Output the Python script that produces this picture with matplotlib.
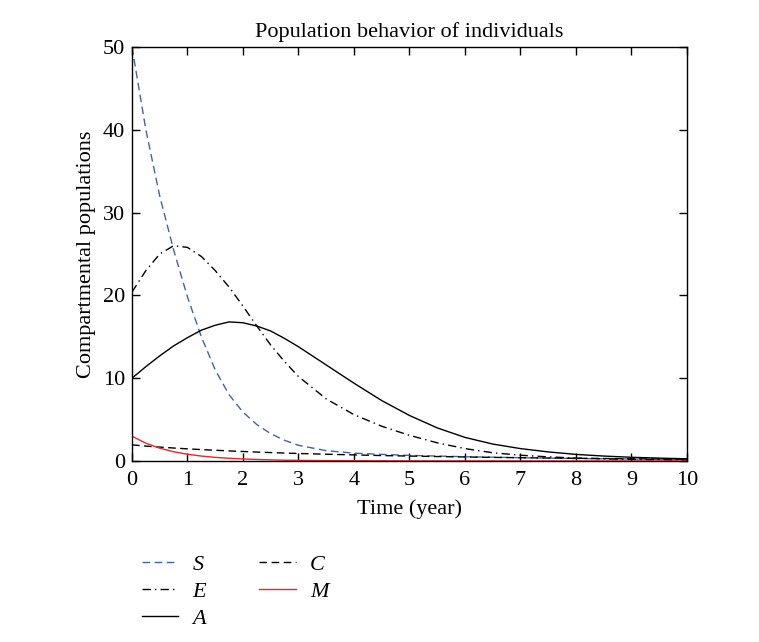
import matplotlib
matplotlib.use("Agg")
import matplotlib.pyplot as plt

plt.rcParams['font.family'] = ['Liberation Serif', 'DejaVu Serif']

t = [0, 0.25, 0.5, 0.75, 1, 1.25, 1.5, 1.75, 2, 2.25, 2.5, 2.75, 3, 3.5, 4,
     4.5, 5, 5.5, 6, 6.5, 7, 7.5, 8, 8.5, 9, 9.5, 10]
S = [50, 40, 32, 25.5, 19.8, 15.0, 11.0, 8.0, 5.9, 4.4, 3.3, 2.5, 1.9, 1.25, 0.95,
     0.8, 0.68, 0.6, 0.52, 0.46, 0.4, 0.35, 0.3, 0.27, 0.24, 0.21, 0.19]
E = [20.4, 23, 25, 26, 25.8, 24.7, 23.0, 21.0, 18.7, 16.3, 14.0, 12.0, 10.2, 7.5, 5.6,
     4.2, 3.1, 2.2, 1.5, 1.0, 0.7, 0.5, 0.36, 0.27, 0.2, 0.15, 0.11]
A = [10, 11.4, 12.7, 13.9, 14.9, 15.8, 16.4, 16.8, 16.7, 16.3, 15.7, 14.8, 13.8, 11.6, 9.4,
     7.3, 5.5, 4.0, 2.85, 2.05, 1.5, 1.1, 0.8, 0.6, 0.45, 0.35, 0.27]
C = [1.95, 1.8, 1.68, 1.57, 1.47, 1.38, 1.3, 1.22, 1.15, 1.08, 1.02, 0.96, 0.91, 0.82, 0.74,
     0.66, 0.6, 0.54, 0.49, 0.44, 0.4, 0.36, 0.33, 0.3, 0.27, 0.25, 0.22]
M = [3.0, 2.15, 1.55, 1.12, 0.82, 0.6, 0.44, 0.33, 0.25, 0.19, 0.14, 0.1, 0.08, 0.05, 0.03,
     0.02, 0.015, 0.01, 0.008, 0.006, 0.005, 0.004, 0.003, 0.002, 0.002, 0.001, 0.001]

xticks = list(range(0, 11))
yticks = [0, 10, 20, 30, 40, 50]

fig = plt.figure(figsize=(7.59, 6.42), dpi=100)
ax = fig.add_axes([0.1739, 0.2819, 0.7312, 0.6449])

lS, = ax.plot(t, S, color='#4361ad', lw=1.0, dashes=(5.5, 3.2), label='S')
lE, = ax.plot(t, E, color='black', lw=1.0, dashes=(6, 3, 1, 3), label='E')
lA, = ax.plot(t, A, color='black', lw=1.0, label='A')
lC, = ax.plot(t, C, color='black', lw=1.0, dashes=(5.5, 3.2), label='C')
lM, = ax.plot(t, M, color='#e8262b', lw=1.0, label='M')

ax.set_xlim(0, 10)
ax.set_ylim(0, 50)
ax.set_xticks(xticks)
ax.set_yticks(yticks)
ax.tick_params(direction='in', length=6, width=1, top=True, right=True,
               labelsize=16)
ax.tick_params(axis='x', pad=7)
ax.tick_params(axis='y', pad=5)
for sp in ax.spines.values():
    sp.set_linewidth(1.0)

ax.set_title('Population behavior of individuals', fontsize=16, pad=7)
ax.set_xlabel('Time (year)', fontsize=16, labelpad=7)
ax.set_ylabel('Compartmental populations', fontsize=16, labelpad=5)

fig.legend(handles=[lS, lE, lA, lC, lM], labels=['S', 'E', 'A', 'C', 'M'],
           ncol=2, loc='upper left', bbox_to_anchor=(0.187, 0.137),
           bbox_transform=fig.transFigure, frameon=False,
           prop={'family': 'Liberation Serif', 'style': 'italic', 'size': 16},
           handlelength=1.64, handletextpad=0.63, columnspacing=2.4,
           labelspacing=0.3, borderaxespad=0, borderpad=0)

fig.savefig('out.png', dpi=100)
